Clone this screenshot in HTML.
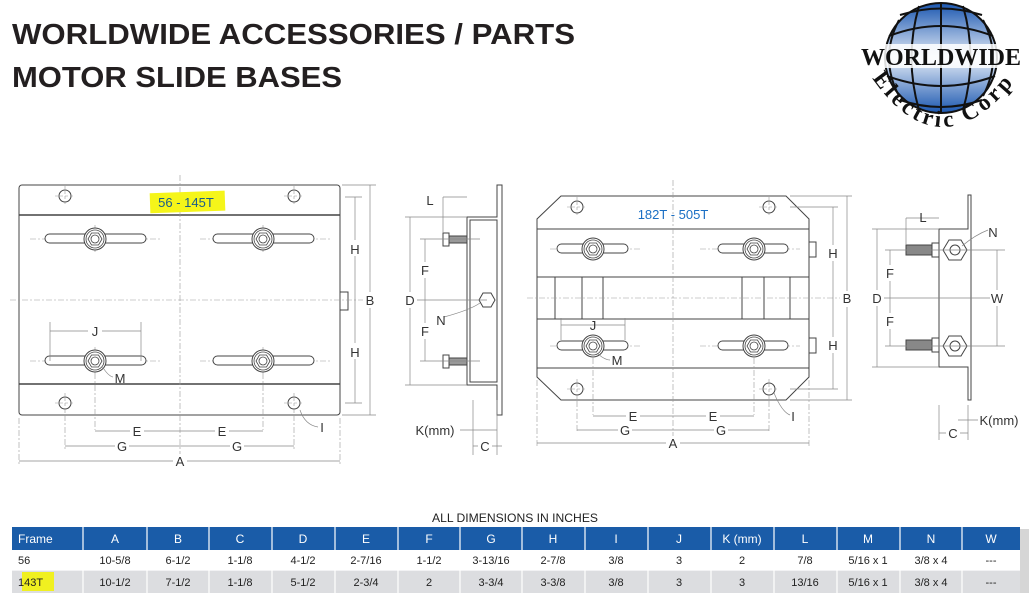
<!DOCTYPE html>
<html><head><meta charset="utf-8"><style>
html,body{margin:0;padding:0;background:#fff;}
svg{display:block;}
</style></head><body>
<svg width="1029" height="593" viewBox="0 0 1029 593" xmlns="http://www.w3.org/2000/svg" font-family="Liberation Sans, sans-serif">
<defs>
<linearGradient id="gl" x1="0" y1="0" x2="0" y2="1">
<stop offset="0" stop-color="#1b57b0"/><stop offset="0.5" stop-color="#e4ecf7"/><stop offset="1" stop-color="#1b57b0"/>
</linearGradient>
<g id="nut">
<circle r="11" fill="#fff" stroke="#444" stroke-width="1"/>
<circle r="9" fill="none" stroke="#444" stroke-width="0.8"/>
<polygon points="7,0 3.5,6 -3.5,6 -7,0 -3.5,-6 3.5,-6" fill="none" stroke="#444" stroke-width="0.8"/>
<circle r="4" fill="none" stroke="#444" stroke-width="0.8"/>
</g>
<g id="hole"><circle r="6" fill="#fff" stroke="#444" stroke-width="1"/><path d="M-10 0H10M0 -10V10" stroke="#999" stroke-width="0.6" stroke-dasharray="3 2"/></g>
</defs>

<text x="12" y="44" font-size="29" font-weight="bold" fill="#231f20" textLength="563" lengthAdjust="spacingAndGlyphs">WORLDWIDE ACCESSORIES / PARTS</text>
<text x="12" y="87" font-size="29" font-weight="bold" fill="#231f20" textLength="330" lengthAdjust="spacingAndGlyphs">MOTOR SLIDE BASES</text>

<g>
<ellipse cx="941" cy="58" rx="56" ry="55" fill="url(#gl)" stroke="#111" stroke-width="2"/>
<g fill="none" stroke="#111" stroke-width="2">
<path d="M889 36 Q941 16 993 36"/><path d="M900 15 Q941 2 982 15"/><path d="M887 76 Q941 96 995 76"/><path d="M900 100 Q941 114 982 100"/>
<path d="M941 3V113"/><path d="M919 6 Q904 58 919 110"/><path d="M963 6 Q978 58 963 110"/><path d="M899 20 Q879 58 899 96"/><path d="M983 20 Q1003 58 983 96"/>
</g>
<rect x="860" y="44" width="162" height="24" fill="#fff" opacity="0.85"/>
<text x="941" y="65" style="font-family:'Liberation Serif',serif" font-size="24" font-weight="bold" text-anchor="middle" fill="#111" textLength="160" lengthAdjust="spacingAndGlyphs">WORLDWIDE</text>
<path id="arc" d="M872 78 Q940 175 1016 80" fill="none"/>
<text style="font-family:'Liberation Serif',serif" font-size="23" font-weight="bold" fill="#111"><textPath href="#arc" textLength="175" lengthAdjust="spacing">Electric Corp</textPath></text>
</g>

<g stroke="#444" fill="none" stroke-width="1">
<rect x="19" y="185" width="321" height="230" rx="3" fill="#fff"/>
<path d="M19 215H340M19 384H340" stroke-width="1.5"/>
<rect x="340" y="292" width="8" height="18"/>
</g>
<g stroke="#999" stroke-width="0.6" stroke-dasharray="6 2 2 2" fill="none">
<path d="M180 175V465M10 300H370M95 225V252M263 225V252M95 347V374M263 347V374M95 361V430M263 361V430M65 403V450M294 403V450M19 418V465M340 418V465"/>
<path d="M30 239H160M200 239H330M30 361H160M200 361H330"/>
</g>
<g stroke="#444" stroke-width="1" fill="#fff">
<rect x="45" y="234" width="101" height="9" rx="4.5"/><rect x="213" y="234" width="101" height="9" rx="4.5"/>
<rect x="45" y="356" width="101" height="9" rx="4.5"/><rect x="213" y="356" width="101" height="9" rx="4.5"/>
</g>
<use href="#nut" x="95" y="239"/><use href="#nut" x="263" y="239"/><use href="#nut" x="95" y="361"/><use href="#nut" x="263" y="361"/>
<use href="#hole" x="65" y="196"/><use href="#hole" x="294" y="196"/><use href="#hole" x="65" y="403"/><use href="#hole" x="294" y="403"/>
<rect x="150" y="192" width="75" height="20" fill="#f5f51a" transform="rotate(-2 187 202)"/>
<text x="186" y="207" font-size="13" text-anchor="middle" fill="#1a5c8a">56 - 145T</text>

<g stroke="#888" stroke-width="0.7" fill="none">
<path d="M345 197H362M345 403H362M342 185H376M342 415H376M355 197V403M370 185V415"/>
<path d="M95 431H263M65 446H294M19 461H340M50 331H141M50 322V361M141 322V361"/>
<path d="M300 410 Q305 425 318 427M102 366 Q108 376 113 377"/>
</g>
<g font-size="13" fill="#333" text-anchor="middle">
<rect x="348" y="240" width="14" height="16" fill="#fff"/><text x="355" y="254">H</text>
<rect x="348" y="343" width="14" height="16" fill="#fff"/><text x="355" y="357">H</text>
<rect x="363" y="292" width="14" height="16" fill="#fff"/><text x="370" y="305">B</text>
<rect x="130" y="424" width="14" height="14" fill="#fff"/><text x="137" y="436">E</text>
<rect x="215" y="424" width="14" height="14" fill="#fff"/><text x="222" y="436">E</text>
<rect x="115" y="439" width="14" height="14" fill="#fff"/><text x="122" y="451">G</text>
<rect x="230" y="439" width="14" height="14" fill="#fff"/><text x="237" y="451">G</text>
<rect x="173" y="454" width="14" height="14" fill="#fff"/><text x="180" y="466">A</text>
<rect x="88" y="324" width="14" height="14" fill="#fff"/><text x="95" y="336">J</text>
<text x="120" y="383">M</text><text x="322" y="432">I</text>
</g>

<g stroke="#444" stroke-width="1" fill="#fff">
<path d="M467 385V217H497V185H502V415H497V385Z"/>
<path d="M470 220H497V382H470Z" fill="none"/>
<rect x="443" y="233" width="6" height="13"/><rect x="449" y="236" width="18" height="7" fill="#999"/>
<rect x="443" y="355" width="6" height="13"/><rect x="449" y="358" width="18" height="7" fill="#999"/>
<polygon points="495,300 491,307 483,307 479,300 483,293 491,293"/>
</g>
<g stroke="#888" stroke-width="0.7" fill="none">
<path d="M405 217H467M405 385H467M410 217V385M425 239V361M420 239H480M420 361H480M443 197V233M443 197H467M487 300H405M444 317 Q470 310 480 303M445 430H497M497 400V455M473 400V455M473 446H502"/>
</g>
<g font-size="13" fill="#333" text-anchor="middle">
<text x="430" y="205">L</text>
<rect x="403" y="292" width="14" height="16" fill="#fff"/><text x="410" y="305">D</text>
<rect x="418" y="262" width="14" height="16" fill="#fff"/><text x="425" y="275">F</text>
<rect x="418" y="323" width="14" height="16" fill="#fff"/><text x="425" y="336">F</text>
<text x="441" y="325">N</text>
<rect x="412" y="423" width="48" height="14" fill="#fff"/><text x="435" y="435">K(mm)</text>
<rect x="478" y="439" width="14" height="14" fill="#fff"/><text x="485" y="451">C</text>
</g>

<g stroke="#444" stroke-width="1" fill="#fff">
<polygon points="561,196 786,196 809,219 809,377 786,400 561,400 537,377 537,219"/>
<path d="M537 229H809M537 277H809M537 319H809M537 368H809M555 277V319M582 277V319M603 277V319M742 277V319M764 277V319M790 277V319" fill="none"/>
<rect x="809" y="242" width="7" height="15"/><rect x="809" y="338" width="7" height="15"/>
</g>
<g stroke="#999" stroke-width="0.6" stroke-dasharray="6 2 2 2" fill="none">
<path d="M673 180V450M527 298H840M550 249H640M700 249H800M550 346H640M700 346H800M593 346V415M754 346V415M577 389V432M769 389V432M537 380V448M809 380V448"/>
</g>
<g stroke="#444" stroke-width="1" fill="#fff">
<rect x="557" y="244" width="71" height="9" rx="4.5"/><rect x="718" y="244" width="70" height="9" rx="4.5"/>
<rect x="557" y="341" width="71" height="9" rx="4.5"/><rect x="718" y="341" width="70" height="9" rx="4.5"/>
</g>
<use href="#nut" x="593" y="249"/><use href="#nut" x="754" y="249"/><use href="#nut" x="593" y="346"/><use href="#nut" x="754" y="346"/>
<use href="#hole" x="577" y="207"/><use href="#hole" x="769" y="207"/><use href="#hole" x="577" y="389"/><use href="#hole" x="769" y="389"/>
<text x="673" y="219" font-size="13" text-anchor="middle" fill="#1a6fc4">182T - 505T</text>
<g stroke="#888" stroke-width="0.7" fill="none">
<path d="M790 207H838M790 389H838M790 196H852M790 400H852M833 207V389M847 196V400"/>
<path d="M593 416H754M577 430H769M537 443H809M561 325H625M561 318V340M625 318V340M774 393 Q782 412 790 415M598 354 Q605 360 610 360"/>
</g>
<g font-size="13" fill="#333" text-anchor="middle">
<rect x="826" y="245" width="14" height="16" fill="#fff"/><text x="833" y="258">H</text>
<rect x="826" y="337" width="14" height="16" fill="#fff"/><text x="833" y="350">H</text>
<rect x="840" y="291" width="14" height="16" fill="#fff"/><text x="847" y="303">B</text>
<rect x="626" y="409" width="14" height="14" fill="#fff"/><text x="633" y="421">E</text>
<rect x="706" y="409" width="14" height="14" fill="#fff"/><text x="713" y="421">E</text>
<rect x="618" y="423" width="14" height="14" fill="#fff"/><text x="625" y="435">G</text>
<rect x="714" y="423" width="14" height="14" fill="#fff"/><text x="721" y="435">G</text>
<rect x="666" y="436" width="14" height="14" fill="#fff"/><text x="673" y="448">A</text>
<text x="593" y="330">J</text><text x="617" y="365">M</text><text x="793" y="421">I</text>
</g>

<g stroke="#444" stroke-width="1" fill="#fff">
<path d="M939 367V229H968V195H971V400H968V367Z"/>
<rect x="906" y="245" width="26" height="10" fill="#888"/><rect x="932" y="243" width="7" height="14"/>
<rect x="906" y="340" width="26" height="10" fill="#888"/><rect x="932" y="338" width="7" height="14"/>
<polygon points="967,250 961,260 949,260 943,250 949,240 961,240"/>
<polygon points="967,346 961,356 949,356 943,346 949,336 961,336"/>
<circle cx="955" cy="250" r="5" fill="none"/><circle cx="955" cy="346" r="5" fill="none"/>
</g>
<g stroke="#888" stroke-width="0.7" fill="none">
<path d="M872 229H939M872 367H939M877 229V367M890 250V346M885 250H1005M885 346H1005M997 250V346M880 298H1000M906 218V245M906 218H939M962 246 Q975 235 988 230M968 405V440M939 405V440M939 433H968M958 420H978"/>
</g>
<g font-size="13" fill="#333" text-anchor="middle">
<text x="923" y="222">L</text><text x="993" y="237">N</text>
<rect x="870" y="290" width="14" height="16" fill="#fff"/><text x="877" y="303">D</text>
<rect x="883" y="265" width="14" height="16" fill="#fff"/><text x="890" y="278">F</text>
<rect x="883" y="313" width="14" height="16" fill="#fff"/><text x="890" y="326">F</text>
<rect x="990" y="290" width="14" height="16" fill="#fff"/><text x="997" y="303">W</text>
<text x="999" y="425">K(mm)</text>
<rect x="946" y="426" width="14" height="14" fill="#fff"/><text x="953" y="438">C</text>
</g>

<text x="515" y="522" font-size="12" text-anchor="middle" fill="#222" textLength="166" lengthAdjust="spacingAndGlyphs">ALL DIMENSIONS IN INCHES</text>
<rect x="1020" y="529" width="9" height="64" fill="#bbb" opacity="0.6"/>
<rect x="12" y="527" width="1008" height="23" fill="#1a5ca8"/>
<rect x="12" y="550" width="1008" height="20" fill="#fff"/>
<rect x="12" y="570" width="1008" height="23" fill="#dcdde0"/>
<rect x="22" y="572" width="32" height="19" fill="#f0f020"/>
<g stroke="#fff" stroke-width="1.2">
<path d="M83 527V593M147 527V593M209 527V593M272 527V593M335 527V593M398 527V593M460 527V593M522 527V593M585 527V593M648 527V593M711 527V593M774 527V593M837 527V593M900 527V593M962 527V593M12 570H1020"/>
</g>
<g font-size="12" fill="#fff" text-anchor="middle">
<text x="18" y="543" text-anchor="start">Frame</text>
<text x="115" y="543">A</text><text x="178" y="543">B</text><text x="240" y="543">C</text><text x="303" y="543">D</text><text x="366" y="543">E</text><text x="429" y="543">F</text><text x="491" y="543">G</text><text x="553" y="543">H</text><text x="616" y="543">I</text><text x="679" y="543">J</text><text x="742" y="543">K (mm)</text><text x="805" y="543">L</text><text x="868" y="543">M</text><text x="931" y="543">N</text><text x="991" y="543">W</text>
</g>
<g font-size="11" fill="#222" text-anchor="middle">
<text x="18" y="564" text-anchor="start">56</text>
<text x="115" y="564">10-5/8</text><text x="178" y="564">6-1/2</text><text x="240" y="564">1-1/8</text><text x="303" y="564">4-1/2</text><text x="366" y="564">2-7/16</text><text x="429" y="564">1-1/2</text><text x="491" y="564">3-13/16</text><text x="553" y="564">2-7/8</text><text x="616" y="564">3/8</text><text x="679" y="564">3</text><text x="742" y="564">2</text><text x="805" y="564">7/8</text><text x="868" y="564">5/16 x 1</text><text x="931" y="564">3/8 x 4</text><text x="991" y="564">---</text>
<text x="18" y="586" text-anchor="start">143T</text>
<text x="115" y="586">10-1/2</text><text x="178" y="586">7-1/2</text><text x="240" y="586">1-1/8</text><text x="303" y="586">5-1/2</text><text x="366" y="586">2-3/4</text><text x="429" y="586">2</text><text x="491" y="586">3-3/4</text><text x="553" y="586">3-3/8</text><text x="616" y="586">3/8</text><text x="679" y="586">3</text><text x="742" y="586">3</text><text x="805" y="586">13/16</text><text x="868" y="586">5/16 x 1</text><text x="931" y="586">3/8 x 4</text><text x="991" y="586">---</text>
</g>
</svg>
</body></html>
